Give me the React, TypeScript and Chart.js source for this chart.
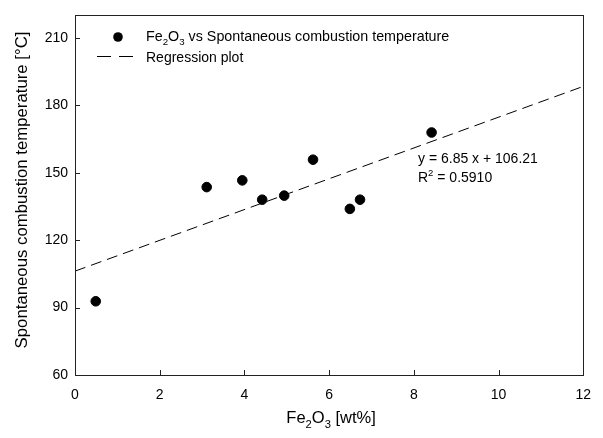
import React, { useEffect, useRef } from "react";
import { Chart, registerables } from "chart.js";

Chart.register(...registerables);

const feX = [0.49, 3.11, 3.95, 4.42, 4.94, 5.62, 6.49, 6.73, 8.42];
const tempY = [92.8, 143.6, 146.6, 138.0, 139.8, 155.8, 133.9, 138.0, 167.9];
const regX = [0, 12];
const regY = [106.21, 188.41];
const yTicks = [60, 90, 120, 150, 180, 210];
const xTicks = [0, 2, 4, 6, 8, 10, 12];

const FONT = "'Liberation Sans', Arial, sans-serif";

type Seg = { t: string; k?: "sub" | "sup" };

const SMALL = 0.68;

function richWidth(ctx: CanvasRenderingContext2D, segs: Seg[], size: number) {
  let w = 0;
  for (const s of segs) {
    ctx.font = `${s.k ? size * SMALL : size}px ${FONT}`;
    w += ctx.measureText(s.t).width;
  }
  return w;
}

function drawRich(ctx: CanvasRenderingContext2D, segs: Seg[], x: number, y: number, size: number) {
  ctx.save();
  ctx.textBaseline = "alphabetic";
  ctx.textAlign = "left";
  ctx.fillStyle = "#000";
  let cx = x;
  for (const s of segs) {
    const sz = s.k ? size * SMALL : size;
    ctx.font = `${sz}px ${FONT}`;
    const dy = s.k === "sub" ? size * 0.28 : s.k === "sup" ? -size * 0.42 : 0;
    ctx.fillText(s.t, cx, y + dy);
    cx += ctx.measureText(s.t).width;
  }
  ctx.restore();
}

const decor = {
  id: "decor",
  afterDraw(chart: any) {
    const ctx: CanvasRenderingContext2D = chart.ctx;
    const { left, right, top, bottom } = chart.chartArea;
    const xs = chart.scales.x;
    const ys = chart.scales.y;
    ctx.save();
    ctx.strokeStyle = "#222";
    ctx.lineWidth = 1;
    ctx.strokeRect(Math.round(left) + 0.5, Math.round(top) + 0.5, Math.round(right - left), Math.round(bottom - top));
    ctx.beginPath();
    for (const v of xTicks) {
      const px = Math.round(xs.getPixelForValue(v)) + 0.5;
      ctx.moveTo(px, bottom);
      ctx.lineTo(px, bottom - 5);
    }
    for (const v of yTicks) {
      const py = Math.round(ys.getPixelForValue(v)) + 0.5;
      ctx.moveTo(left, py);
      ctx.lineTo(left + 5, py);
    }
    ctx.stroke();

    // legend
    ctx.fillStyle = "#000";
    ctx.beginPath();
    ctx.arc(118, 37, 4.8, 0, Math.PI * 2);
    ctx.fill();
    ctx.setLineDash([14, 8]);
    ctx.strokeStyle = "#000";
    ctx.beginPath();
    ctx.moveTo(97, 56.5);
    ctx.lineTo(133, 56.5);
    ctx.stroke();
    ctx.setLineDash([]);
    drawRich(ctx, [{ t: "Fe" }, { t: "2", k: "sub" }, { t: "O" }, { t: "3", k: "sub" }, { t: " vs Spontaneous combustion temperature" }], 146, 41, 14.3);
    drawRich(ctx, [{ t: "Regression plot" }], 146, 62, 14);

    // equation annotation
    drawRich(ctx, [{ t: "y = 6.85 x + 106.21" }], 418, 163, 14);
    drawRich(ctx, [{ t: "R" }, { t: "2", k: "sup" }, { t: " = 0.5910" }], 418, 182, 14);

    // x title
    const segs: Seg[] = [{ t: "Fe" }, { t: "2", k: "sub" }, { t: "O" }, { t: "3", k: "sub" }, { t: " [wt%]" }];
    const w = richWidth(ctx, segs, 16.5);
    drawRich(ctx, segs, (left + right) / 2 + 2 - w / 2, 423, 16.5);

    // y title
    ctx.save();
    ctx.translate(22.5, 190);
    ctx.rotate(-Math.PI / 2);
    ctx.font = `16.75px ${FONT}`;
    ctx.textAlign = "center";
    ctx.textBaseline = "middle";
    ctx.fillStyle = "#000";
    ctx.fillText("Spontaneous combustion temperature [°C]", 0, 0);
    ctx.restore();
    ctx.restore();
  },
};

export default function App() {
  const ref = useRef<HTMLCanvasElement | null>(null);
  useEffect(() => {
    document.body.style.margin = "0";
    const canvas = ref.current!;
    const chart = new Chart(canvas, {
      type: "scatter",
      data: {
        datasets: [
          {
            label: "Fe2O3 vs Spontaneous combustion temperature",
            data: feX.map((x, i) => ({ x, y: tempY[i] })),
            backgroundColor: "#000",
            borderColor: "#000",
            pointRadius: 4.8,
            pointHoverRadius: 4.8,
          },
          {
            label: "Regression plot",
            type: "line",
            data: regX.map((x, i) => ({ x, y: regY[i] })),
            borderColor: "#000",
            borderWidth: 1,
            borderDash: [11, 6],
            pointRadius: 0,
            fill: false,
          } as any,
        ],
      },
      options: {
        responsive: false,
        animation: false,
        devicePixelRatio: 1,
        layout: { padding: { top: 4, right: 17, left: 0, bottom: 0 } },
        plugins: { legend: { display: false }, tooltip: { enabled: false } },
        scales: {
          x: {
            type: "linear",
            min: 0,
            max: 12,
            grid: { display: false, tickLength: 0 },
            border: { display: false },
            afterBuildTicks: (s: any) => {
              s.ticks = xTicks.map((v) => ({ value: v }));
            },
            afterFit: (s: any) => {
              s.height = 63;
            },
            ticks: { font: { family: FONT, size: 14 }, color: "#000", padding: 12, maxRotation: 0 },
          },
          y: {
            type: "linear",
            min: 60,
            max: 220,
            grid: { display: false, tickLength: 0 },
            border: { display: false },
            afterBuildTicks: (s: any) => {
              s.ticks = yTicks.map((v) => ({ value: v }));
            },
            afterFit: (s: any) => {
              s.width = 75;
            },
            ticks: { font: { family: FONT, size: 14 }, color: "#000", padding: 7 },
          },
        },
      },
      plugins: [decor],
    });
    return () => chart.destroy();
  }, []);
  return (
    <div style={{ width: 603, height: 438, background: "#fff" }}>
      <canvas ref={ref} width={603} height={438} />
    </div>
  );
}
